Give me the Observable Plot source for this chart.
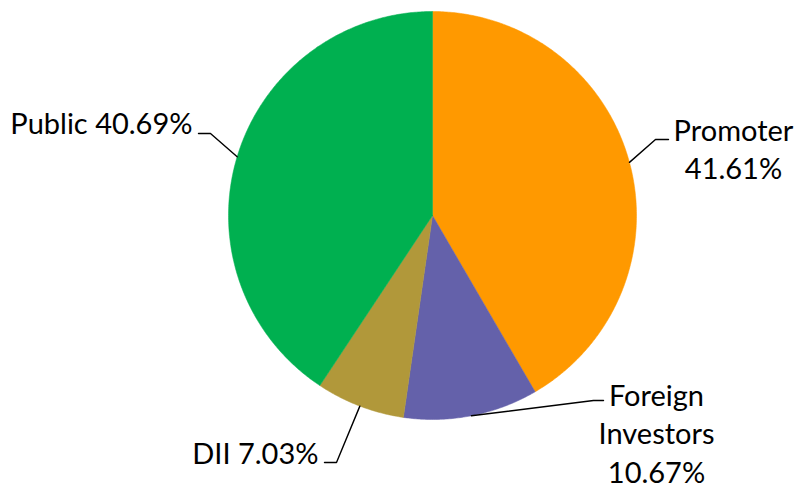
<!DOCTYPE html>
<html>
<head>
<meta charset="utf-8">
<script src="https://cdn.jsdelivr.net/npm/d3@7"></script>
<script src="https://cdn.jsdelivr.net/npm/@observablehq/plot@0.6"></script>
<style>
  html, body { margin: 0; padding: 0; background: #fff; }
  #chart { width: 800px; height: 487px; }
</style>
</head>
<body>
<div id="chart"></div>
<script>
// ---- data ----
const categories = ["Promoter", "Foreign Investors", "DII", "Public"];
const shares = [41.61, 10.67, 7.03, 40.69];
const labelLines = [["Promoter", "41.61%"], ["Foreign", "Investors", "10.67%"], ["DII 7.03%"], ["Public 40.69%"]];
const colors = ["#FF9900", "#6461AA", "#B1983A", "#00B050"];

// ---- layout (pixel space) ----
const W = 800, H = 487;
const center = [432, 215], radius = 204;
const fontSize = 29, lineGap = 38.5;
const labelLayout = [
  {elbow: [655, 139], end: [668, 139], x: 733, baseline: 140, anchor: "middle"},
  {elbow: [593, 400], end: [603, 400], x: 656, baseline: 405, anchor: "middle"},
  {elbow: [336, 462], end: [324, 462], x: 318, baseline: 463, anchor: "end"},
  {elbow: [210, 133], end: [198, 133], x: 192, baseline: 133, anchor: "end"}
];

const arcs = d3.pie().sort(null).value(d => d)(shares);
const pt = (a, r) => [center[0] + r * Math.sin(a), center[1] - r * Math.cos(a)];

const slicePts = [];
arcs.forEach((a, i) => {
  const name = categories[i];
  slicePts.push({name, x: center[0], y: center[1]});
  const n = Math.max(2, Math.ceil((a.endAngle - a.startAngle) / (2 * Math.PI) * 720));
  for (let k = 0; k <= n; k++) {
    const t = a.startAngle + (a.endAngle - a.startAngle) * k / n;
    const [x, y] = pt(t, radius);
    slicePts.push({name, x, y});
  }
  slicePts.push({name, x: center[0], y: center[1]});
});

const leaderPts = [];
arcs.forEach((a, i) => {
  const mid = (a.startAngle + a.endAngle) / 2;
  const [x0, y0] = pt(mid, radius);
  const L = labelLayout[i];
  leaderPts.push({name: categories[i], x: x0, y: y0});
  leaderPts.push({name: categories[i], x: L.elbow[0], y: L.elbow[1]});
  leaderPts.push({name: categories[i], x: L.end[0], y: L.end[1]});
});

const textRows = [];
labelLines.forEach((lines, i) => {
  const L = labelLayout[i];
  lines.forEach((t, j) => {
    textRows.push({text: t, anchor: L.anchor, x: L.x, y: L.baseline + j * lineGap - 0.32 * fontSize});
  });
});

const chart = Plot.plot({
  width: W, height: H,
  margin: 0,
  x: {domain: [0, W], range: [0, W], axis: null},
  y: {domain: [0, H], range: [0, H], axis: null},
  color: {domain: categories, range: colors},
  style: {fontFamily: "Lato, 'Noto Sans', sans-serif", background: "#fff"},
  marks: [
    Plot.line(slicePts, {x: "x", y: "y", z: "name", fill: "name", stroke: "name", strokeWidth: 0.5, curve: "linear"}),
    Plot.line(leaderPts, {x: "x", y: "y", z: "name", stroke: "#000", strokeWidth: 1.4, curve: "linear"}),
    Plot.text(textRows.filter(d => d.anchor === "middle"), {x: "x", y: "y", text: "text", textAnchor: "middle", fontSize, fill: "#000"}),
    Plot.text(textRows.filter(d => d.anchor === "end"), {x: "x", y: "y", text: "text", textAnchor: "end", fontSize, fill: "#000"})
  ]
});
document.getElementById("chart").appendChild(chart);
</script>
</body>
</html>
